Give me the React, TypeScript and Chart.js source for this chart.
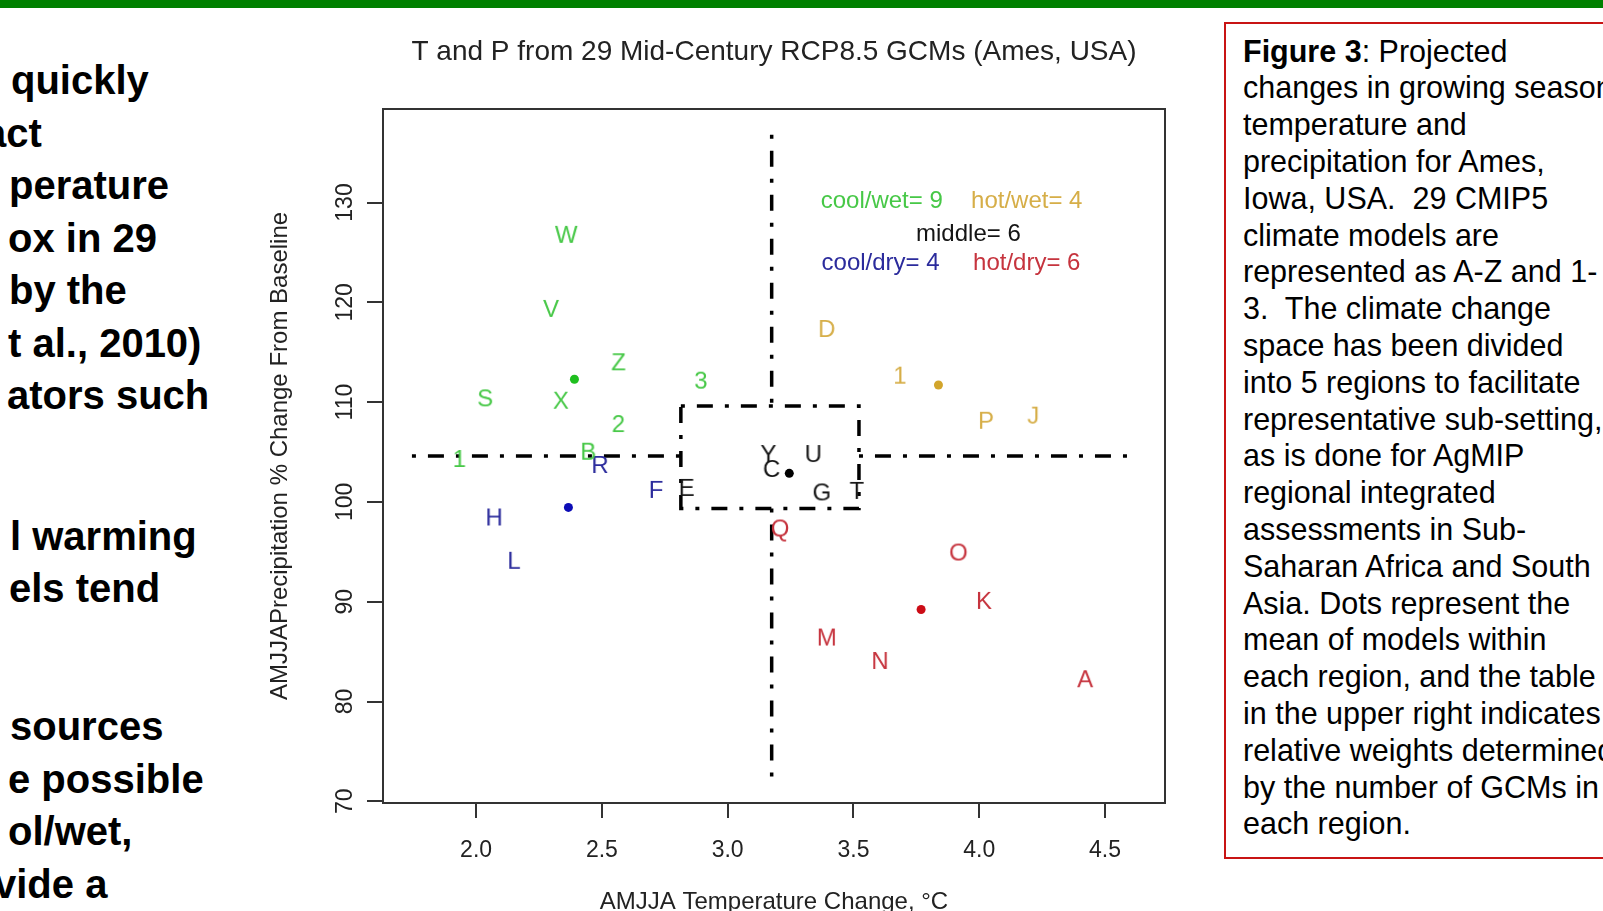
import React, { useEffect, useRef } from 'react';
import { Chart, registerables } from 'chart.js';

Chart.register(...registerables);

const FONT = "'Liberation Sans', Arial, Helvetica, sans-serif";

// ---- chart text ----
const chartTitle = 'T and P from 29 Mid-Century RCP8.5 GCMs (Ames, USA)';
const xAxisTitle = 'AMJJA Temperature Change, \u00B0C';
const yAxisTitle = 'AMJJAPrecipitation % Change From Baseline';

// ---- ticks ----
const xTicks = [2.0, 2.5, 3.0, 3.5, 4.0, 4.5];
const yTicks = [70, 80, 90, 100, 110, 120, 130];

// ---- models per region (temperature change °C, precipitation % of baseline) ----
const coolWetModels = ['W', 'V', 'Z', '3', 'S', 'X', '2', '1', 'B'];
const coolWetT = [2.358, 2.298, 2.566, 2.894, 2.036, 2.337, 2.566, 1.934, 2.446];
const coolWetP = [126.66, 119.24, 113.89, 112.05, 110.28, 110.04, 107.7, 104.2, 104.93];

const hotWetModels = ['D', '1', 'P', 'J'];
const hotWetT = [3.394, 3.685, 4.027, 4.215];
const hotWetP = [117.23, 112.55, 108.03, 108.54];

const middleModels = ['Y', 'C', 'U', 'G', 'T', 'E'];
const middleT = [3.162, 3.175, 3.341, 3.374, 3.513, 2.837];
const middleP = [104.7, 103.2, 104.7, 100.85, 101.0, 101.3];

const coolDryModels = ['H', 'L', 'F', 'R'];
const coolDryT = [2.072, 2.151, 2.715, 2.493];
const coolDryP = [98.34, 94.0, 101.1, 103.6];

const hotDryModels = ['Q', 'O', 'K', 'M', 'N', 'A'];
const hotDryT = [3.208, 3.917, 4.019, 3.394, 3.606, 4.421];
const hotDryP = [97.24, 94.83, 89.98, 86.31, 83.96, 82.13];

// ---- region means (dots) ----
const meanT = [2.391, 3.838, 3.245, 2.367, 3.769];
const meanP = [112.29, 111.72, 102.86, 99.45, 89.22];

// ---- region weights table ----
const regionNames = ['cool/wet', 'hot/wet', 'middle', 'cool/dry', 'hot/dry'];
const regionCounts = [9, 4, 6, 4, 6];

// ---- dividing lines ----
const splitT = 3.175;
const splitP = 104.6;
const boxT = [2.814, 3.522];
const boxP = [99.35, 109.6];
const lineTRange = [1.745, 4.6];
const linePRange = [72.4, 136.8];
const xLimits = [1.63, 4.7385];
const yLimits = [69.83, 139.37];

// ---- styles ----
const letterColors = ['#47c847', '#d6ae48', '#151515', '#2b2b9c', '#c6343e'];
const dotColors = ['#1fbf1f', '#d2a52c', '#000000', '#0c0cb6', '#cc0c16'];

function letterImage(ch: string, color: string) {
  const c = document.createElement('canvas');
  c.width = 34;
  c.height = 34;
  const g = c.getContext('2d')!;
  g.font = `24px ${FONT}`;
  g.fillStyle = color;
  g.textAlign = 'center';
  g.textBaseline = 'middle';
  g.fillText(ch, 17, 17);
  return c;
}

const leftLines = [
  { text: 'quickly', left: 11, base: 94 },
  { text: 'act', left: -16, base: 146.5 },
  { text: 'perature', left: 9, base: 199 },
  { text: 'ox in 29', left: 8, base: 251.5 },
  { text: 'by the', left: 9, base: 304 },
  { text: 't al., 2010)', left: 8, base: 356.5 },
  { text: 'ators such', left: 7, base: 409 },
  { text: 'l warming', left: 10, base: 549.5 },
  { text: 'els tend', left: 9, base: 602 },
  { text: 'sources', left: 10, base: 740 },
  { text: 'e possible', left: 8, base: 792.5 },
  { text: 'ol/wet,', left: 8, base: 845 },
  { text: 'vide a', left: -6, base: 897.5 },
];

const captionLines = [
  'changes in growing season',
  'temperature and',
  'precipitation for Ames,',
  'Iowa, USA.  29 CMIP5',
  'climate models are',
  'represented as A-Z and 1-',
  '3.  The climate change',
  'space has been divided',
  'into 5 regions to facilitate',
  'representative sub-setting,',
  'as is done for AgMIP',
  'regional integrated',
  'assessments in Sub-',
  'Saharan Africa and South',
  'Asia. Dots represent the',
  'mean of models within',
  'each region, and the table',
  'in the upper right indicates',
  'relative weights determined',
  'by the number of GCMs in',
  'each region.',
];

export default function App() {
  const ref = useRef<HTMLCanvasElement>(null);

  useEffect(() => {
    const canvas = ref.current!;
    const groups = [
      { m: coolWetModels, t: coolWetT, p: coolWetP },
      { m: hotWetModels, t: hotWetT, p: hotWetP },
      { m: middleModels, t: middleT, p: middleP },
      { m: coolDryModels, t: coolDryT, p: coolDryP },
      { m: hotDryModels, t: hotDryT, p: hotDryP },
    ];

    const letterSets: any[] = groups.map((g, gi) => {
      const imgs = g.m.map((ch) => letterImage(ch, letterColors[gi]));
      return {
        label: regionNames[gi],
        data: g.t.map((t, i) => ({ x: t, y: g.p[i] })),
        pointStyle: (ctx: any) => imgs[ctx.dataIndex],
        pointRadius: 8,
        showLine: false,
      };
    });

    const meanSet: any = {
      label: 'means',
      data: meanT.map((t, i) => ({ x: t, y: meanP[i] })),
      pointStyle: 'circle',
      pointRadius: 4.5,
      backgroundColor: dotColors,
      borderWidth: 0,
      showLine: false,
    };

    const dash = {
      showLine: true,
      borderColor: '#000',
      borderWidth: 3.5,
      borderDash: [4, 12, 16, 12],
      borderCapStyle: 'butt',
      pointRadius: 0,
      fill: false,
      tension: 0,
    };
    const lineSets: any[] = [
      { ...dash, data: [{ x: lineTRange[0], y: splitP }, { x: boxT[0], y: splitP }] },
      { ...dash, data: [{ x: boxT[1], y: splitP }, { x: lineTRange[1], y: splitP }] },
      { ...dash, data: [{ x: splitT, y: linePRange[1] }, { x: splitT, y: boxP[1] }] },
      { ...dash, data: [{ x: splitT, y: boxP[0] }, { x: splitT, y: linePRange[0] }] },
      {
        ...dash,
        data: [
          { x: boxT[0], y: boxP[1] },
          { x: boxT[1], y: boxP[1] },
          { x: boxT[1], y: boxP[0] },
          { x: boxT[0], y: boxP[0] },
          { x: boxT[0], y: boxP[1] },
        ],
      },
    ];

    const legendAnchors = [
      { x: 3.6125, y: 130.1 },
      { x: 4.189, y: 130.1 },
      { x: 3.957, y: 126.83 },
      { x: 3.608, y: 123.92 },
      { x: 4.189, y: 123.92 },
    ];

    const rPlot = {
      id: 'rplot',
      beforeDatasetsDraw(chart: any) {
        const { ctx, chartArea: a } = chart;
        ctx.save();
        ctx.strokeStyle = '#333';
        ctx.lineWidth = 2;
        ctx.strokeRect(a.left, a.top, a.right - a.left, a.bottom - a.top);
        ctx.restore();
      },
      afterDraw(chart: any) {
        const { ctx, chartArea: a } = chart;
        const ys = chart.scales.y;
        const xs = chart.scales.x;
        ctx.save();
        ctx.fillStyle = '#222';
        ctx.font = `23px ${FONT}`;
        ctx.textAlign = 'center';
        ctx.textBaseline = 'middle';
        for (const t of ys.ticks) {
          const py = ys.getPixelForValue(t.value);
          ctx.save();
          ctx.translate(a.left - 37, py);
          ctx.rotate(-Math.PI / 2);
          ctx.fillText(String(t.value), 0, 0);
          ctx.restore();
        }
        ctx.font = `24px ${FONT}`;
        regionNames.forEach((n, i) => {
          ctx.fillStyle = letterColors[i];
          ctx.fillText(`${n}= ${regionCounts[i]}`, xs.getPixelForValue(legendAnchors[i].x), ys.getPixelForValue(legendAnchors[i].y));
        });
        ctx.restore();
      },
    };

    const chart = new Chart(canvas, {
      type: 'scatter',
      data: { datasets: [...letterSets, meanSet, ...lineSets] },
      options: {
        animation: false,
        responsive: false,
        events: [],
        layout: { padding: { left: 0, right: 25, top: 0, bottom: 0 } },
        plugins: {
          legend: { display: false },
          tooltip: { enabled: false },
          title: {
            display: true,
            text: chartTitle,
            fullSize: false,
            color: '#222',
            font: { family: FONT, size: 28, weight: 'normal' },
            padding: { top: 35, bottom: 40.4 },
          },
        },
        scales: {
          x: {
            type: 'linear',
            position: 'bottom',
            min: xLimits[0],
            max: xLimits[1],
            afterBuildTicks: (s: any) => {
              s.ticks = xTicks.map((v) => ({ value: v }));
            },
            afterFit: (s: any) => {
              s.height = 127;
            },
            ticks: {
              autoSkip: false,
              maxRotation: 0,
              padding: 19,
              color: '#222',
              font: { family: FONT, size: 23 },
              callback: (v: any) => Number(v).toFixed(1),
            },
            grid: { display: true, drawOnChartArea: false, drawTicks: true, tickLength: 15, color: '#333', lineWidth: 2 },
            border: { display: true, color: '#333', width: 2 },
            title: {
              display: true,
              text: xAxisTitle,
              color: '#222',
              font: { family: FONT, size: 24 },
              padding: { top: 0, bottom: 12.9 },
            },
          },
          y: {
            type: 'linear',
            position: 'left',
            min: yLimits[0],
            max: yLimits[1],
            afterBuildTicks: (s: any) => {
              s.ticks = yTicks.map((v) => ({ value: v }));
            },
            afterFit: (s: any) => {
              s.width = 133;
            },
            ticks: { display: false },
            grid: { display: true, drawOnChartArea: false, drawTicks: true, tickLength: 16, color: '#333', lineWidth: 2 },
            border: { display: true, color: '#333', width: 2 },
            title: {
              display: true,
              text: yAxisTitle,
              color: '#222',
              font: { family: FONT, size: 24 },
              padding: { top: 15.6, bottom: 0 },
            },
          },
        },
      } as any,
      plugins: [rPlot as any],
    });
    return () => chart.destroy();
  }, []);

  const leftFs = 40;
  const capFs = 30.5;
  return (
    <div
      style={{
        position: 'fixed',
        left: 0,
        top: 0,
        width: 1603,
        height: 911,
        overflow: 'hidden',
        background: '#fff',
        fontFamily: FONT,
      }}
    >
      <div style={{ position: 'absolute', left: 0, top: 0, width: 1603, height: 7.5, background: '#008000' }} />
      {leftLines.map((l, i) => (
        <div
          key={i}
          style={{
            position: 'absolute',
            left: l.left,
            top: l.base - 0.8465 * leftFs,
            fontSize: leftFs,
            lineHeight: `${leftFs}px`,
            fontWeight: 'bold',
            whiteSpace: 'pre',
            color: '#000',
          }}
        >
          {l.text}
        </div>
      ))}
      <canvas
        ref={ref}
        width={940}
        height={930}
        style={{ position: 'absolute', left: 250, top: 0, width: 940, height: 930 }}
      />
      <div
        style={{
          position: 'absolute',
          left: 1224,
          top: 22,
          width: 500,
          height: 837,
          boxSizing: 'border-box',
          border: '2px solid #c81414',
        }}
      />
      <div
        style={{
          position: 'absolute',
          left: 1243,
          top: 61.5 - 0.8465 * capFs,
          fontSize: capFs,
          lineHeight: `${capFs}px`,
          whiteSpace: 'pre',
          color: '#000',
        }}
      >
        <b>Figure 3</b>: Projected
      </div>
      {captionLines.map((t, i) => (
        <div
          key={i}
          style={{
            position: 'absolute',
            left: 1243,
            top: 61.5 + (i + 1) * 36.8 - 0.8465 * capFs,
            fontSize: capFs,
            lineHeight: `${capFs}px`,
            whiteSpace: 'pre',
            color: '#000',
          }}
        >
          {t}
        </div>
      ))}
    </div>
  );
}
